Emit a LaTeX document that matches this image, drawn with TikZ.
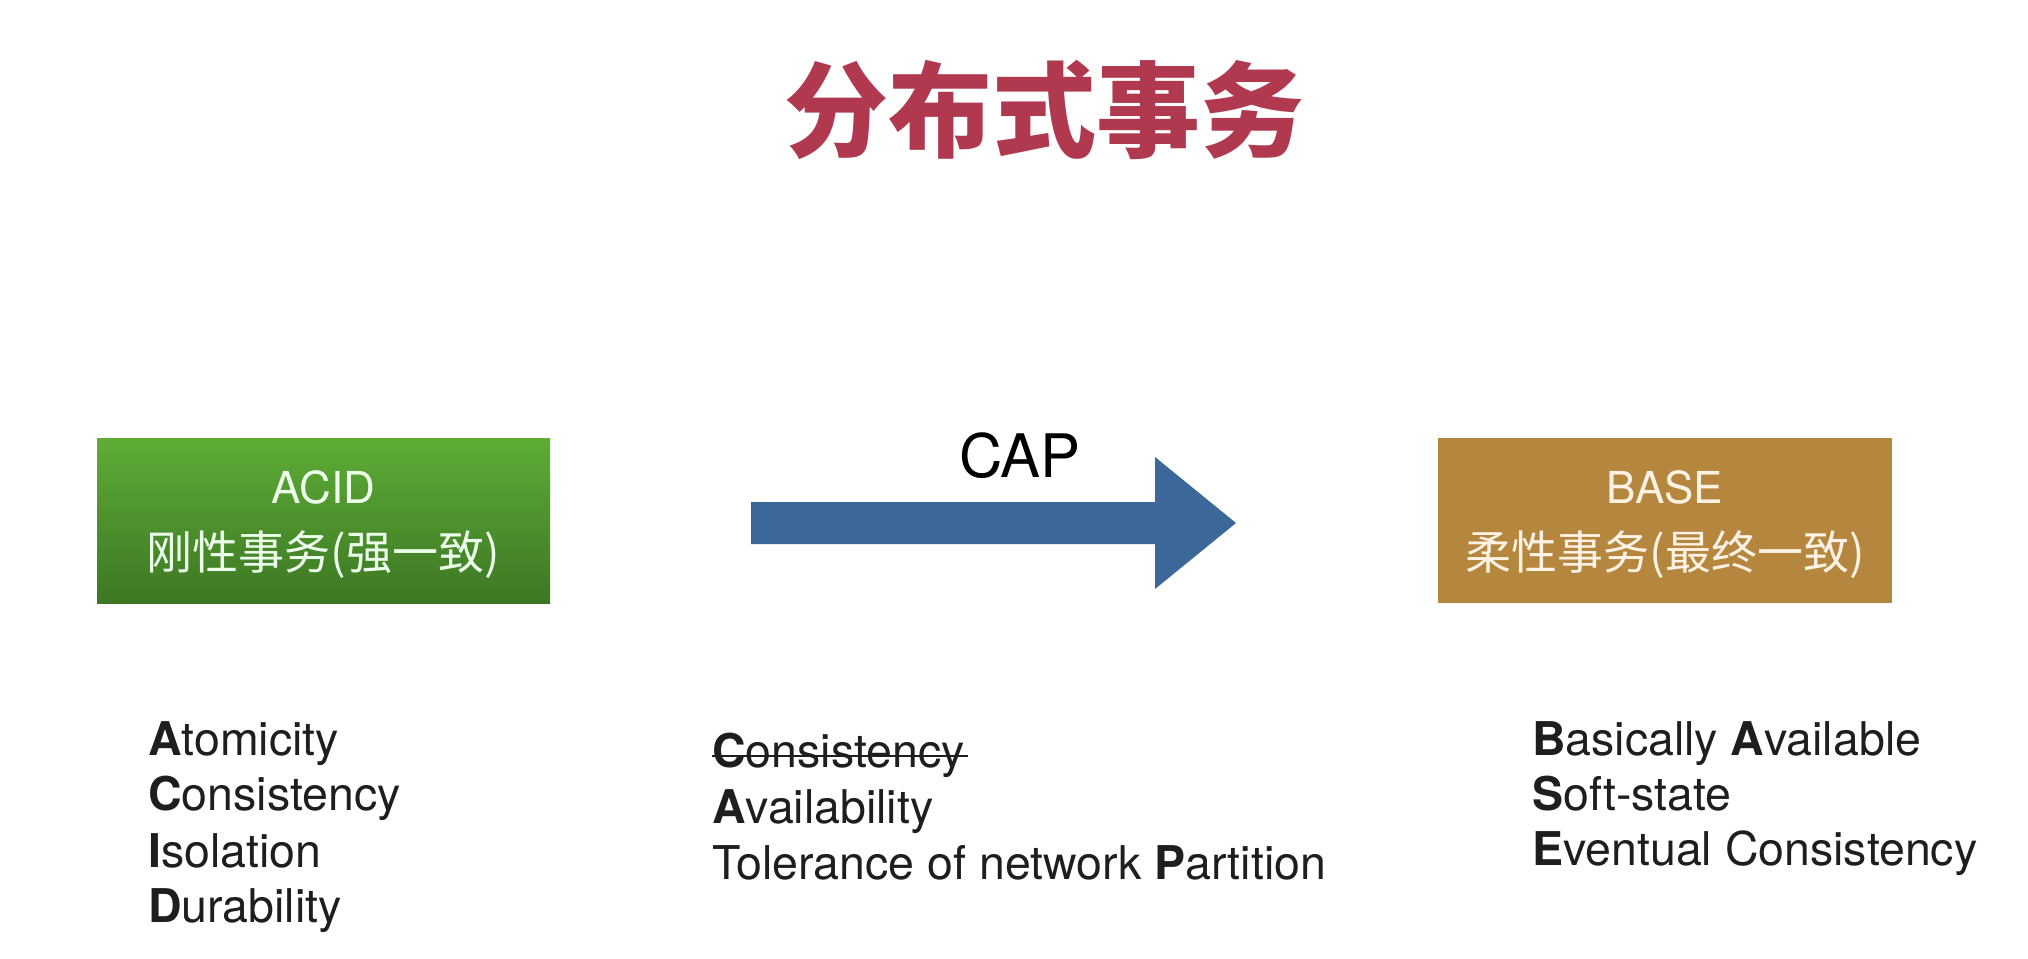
\documentclass[tikz,border=0pt]{standalone}
\usepackage{fontspec}
\setmainfont{TeX Gyre Heros}
\newfontfamily\cjk{Noto Sans CJK SC}
\definecolor{titlered}{HTML}{B1394F}
\definecolor{greentop}{HTML}{5EAC36}
\definecolor{greenbot}{HTML}{3D7724}
\definecolor{basebrown}{HTML}{B5873E}
\definecolor{arrowblue}{HTML}{3C6799}
\definecolor{txt}{HTML}{1E1E1E}
\tikzset{
  boxtext/.style={inner sep=0pt, anchor=base},
  listline/.style={inner sep=0pt, anchor=base west, text=txt, font=\fontsize{46.5}{56}\selectfont},
}
\newcommand{\bl}[1]{\textbf{#1}}
\begin{document}
\begin{tikzpicture}[x=1pt,y=-1pt]
\useasboundingbox[fill=white] (0,0) rectangle (2028,958);
% title
\node[text=titlered, inner sep=0pt, font=\cjk\bfseries\fontsize{104}{110}\selectfont] (title) at (1044,110) {分布式事务};
% boxes
\shade[top color=greentop, bottom color=greenbot] (97,438) rectangle (550,603);
\node[inner sep=0pt, minimum width=453pt, minimum height=165pt] (acid) at (323.5,520.5) {};
\fill[basebrown] (1438,438) rectangle (1892,603);
\node[inner sep=0pt, minimum width=454pt, minimum height=165pt] (base) at (1665,520.5) {};
\node[boxtext, text=white!92!green, font=\fontsize{44}{50}\selectfont] (acidt) at (323.5,503) {ACID};
\node[boxtext, text=white!92!green, font=\cjk\fontsize{46}{50}\selectfont] (acidc) at (323.5,569) {刚性事务(强一致)};
\node[boxtext, text=white!90!orange, font=\fontsize{44}{50}\selectfont] (baset) at (1665,503) {BASE};
\node[boxtext, text=white!90!orange, font=\cjk\fontsize{46}{50}\selectfont] (basec) at (1665,569) {柔性事务(最终一致)};
% arrow
\fill[arrowblue] (751,502) -- (1155,502) -- (1155,457) -- (1236,523) -- (1155,589) -- (1155,544) -- (751,544) -- cycle;
\node[inner sep=0pt, anchor=base, text=black, font=\fontsize{60}{64}\selectfont] (cap) at (1020,477) {CAP};
% ACID list
\node[listline] (a1) at (148,755) {\bl{A}tomicity};
\node[listline] (a2) at (148,810) {\bl{C}onsistency};
\node[listline] (a3) at (148,867) {\bl{I}solation};
\node[listline] (a4) at (148,922) {\bl{D}urability};
% CAP list
\node[listline] (c1) at (712,767) {\bl{C}onsistency};
\node[listline] (c2) at (712,823) {\bl{A}vailability};
\node[listline] (c3) at (712,879) {Tolerance of network \bl{P}artition};
\draw[txt, line width=2.2pt] ([yshift=11pt]c1.base west) -- ([xshift=3pt,yshift=11pt]c1.base east);
% BASE list
\node[listline] (b1) at (1532,755) {\bl{B}asically \bl{A}vailable};
\node[listline] (b2) at (1532,810) {\bl{S}oft-state};
\node[listline] (b3) at (1532,865) {\bl{E}ventual Consistency};
\end{tikzpicture}
\end{document}
